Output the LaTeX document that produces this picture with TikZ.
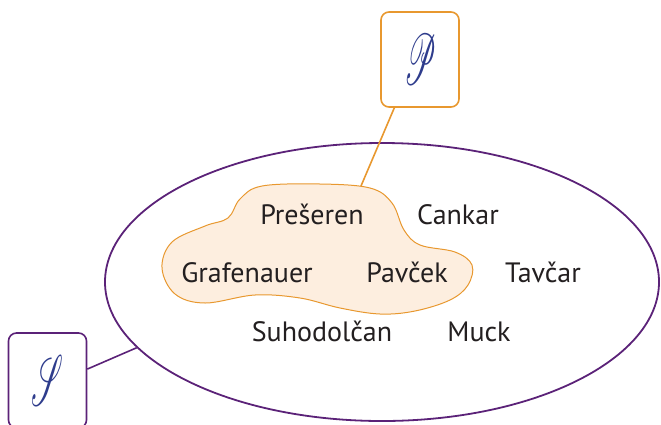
\documentclass[tikz,border=0pt]{standalone}
\usepackage{fontspec}
\setmainfont{PT Sans}
\usepackage{mathrsfs}
\usepackage{graphicx}
\usetikzlibrary{shapes.geometric}

\definecolor{setpurple}{HTML}{5B2278}
\definecolor{setorange}{HTML}{E8982F}
\definecolor{blobfill}{HTML}{FDEEDF}
\definecolor{scriptblue}{HTML}{2E3C8C}
\definecolor{textdark}{HTML}{231F20}

\begin{document}
\begin{tikzpicture}[x=1pt, y=-1pt,
        surname/.style={anchor=base, inner sep=0pt, text=textdark, font=\fontsize{28}{28}\selectfont},
        setbox/.style={draw=#1, line width=1.6pt, rounded corners=8pt, minimum width=78pt,
            minimum height=95pt, inner sep=0pt, text=scriptblue}
    ]
        \useasboundingbox (0,0) rectangle (661,424);
        \newcommand{\setsym}[1]{\resizebox{32pt}{50pt}{$\mathscr{#1}$}}

        % the whole set
        \node[ellipse, draw=setpurple, line width=1.8pt, minimum width=554pt, minimum height=278pt,
            inner sep=0pt] (U) at (382,282) {};

        % the subset
        \draw[setorange, fill=blobfill, line width=1pt] plot[smooth cycle, tension=0.6] coordinates {
            (240,199) (262,186) (320,184) (370,188) (392,203) (404,230) (420,245) (455,252)
            (472,265) (468,285) (450,300) (415,311) (380,314) (340,308) (300,298) (255,295)
            (205,303) (175,294) (162,268) (172,242) (205,226) (228,218)};
        \coordinate (blobtop) at (361,186);

        \node[surname] (presern) at (312,224) {Prešeren};
        \node[surname] (cankar) at (458,224) {Cankar};
        \node[surname] (grafenauer) at (247,282) {Grafenauer};
        \node[surname] (pavcek) at (407,282) {Pavček};
        \node[surname] (tavcar) at (543,282) {Tavčar};
        \node[surname] (suhodolcan) at (322,341) {Suhodolčan};
        \node[surname] (muck) at (479,341) {Muck};

        \node[setbox=setorange] (P) at (420,59.5) {\setsym{P}};
        \node[setbox=setpurple] (S) at (47.5,380.5) {\setsym{S}};

        \draw[setorange, line width=1.6pt] (P.242) -- (blobtop);
        \draw[setpurple, line width=1.6pt] (S.16) -- (U.195);
    \end{tikzpicture}
\end{document}
